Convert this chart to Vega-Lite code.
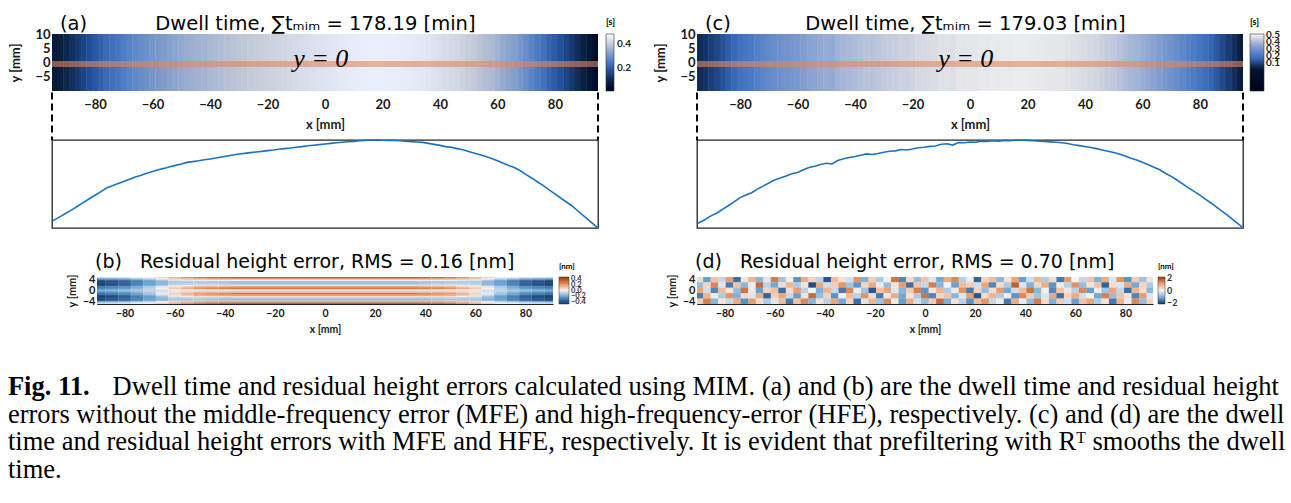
{
"$schema":"https://vega.github.io/schema/vega-lite/v6.json",
"padding":{"left":7,"top":13,"right":0,"bottom":0},
"background":"white",
"config":{"font":"Lato","view":{"stroke":null},"axis":{"grid":false,"ticks":false,"labelColor":"#1a1a1a","titleColor":"#1a1a1a","labelFontWeight":"bold","titleFontWeight":"bold","domainColor":"#222","labelOverlap":false},"legend":{"padding":0},"title":{"color":"black"}},
"datasets":{
"dwellA":[{"x":-95,"t":0.053},{"x":-94,"t":0.062},{"x":-92,"t":0.078},{"x":-90,"t":0.095},{"x":-88,"t":0.112},{"x":-86,"t":0.130},{"x":-84,"t":0.148},{"x":-82,"t":0.166},{"x":-80,"t":0.184},{"x":-78,"t":0.202},{"x":-76,"t":0.220},{"x":-74,"t":0.231},{"x":-72,"t":0.242},{"x":-70,"t":0.253},{"x":-68,"t":0.264},{"x":-66,"t":0.275},{"x":-64,"t":0.284},{"x":-62,"t":0.294},{"x":-60,"t":0.303},{"x":-58,"t":0.311},{"x":-56,"t":0.318},{"x":-54,"t":0.326},{"x":-52,"t":0.333},{"x":-50,"t":0.340},{"x":-48,"t":0.348},{"x":-46,"t":0.352},{"x":-44,"t":0.356},{"x":-42,"t":0.361},{"x":-40,"t":0.365},{"x":-38,"t":0.370},{"x":-36,"t":0.375},{"x":-34,"t":0.380},{"x":-32,"t":0.385},{"x":-30,"t":0.390},{"x":-28,"t":0.393},{"x":-26,"t":0.397},{"x":-24,"t":0.400},{"x":-22,"t":0.403},{"x":-20,"t":0.407},{"x":-18,"t":0.410},{"x":-16,"t":0.414},{"x":-14,"t":0.417},{"x":-12,"t":0.420},{"x":-10,"t":0.424},{"x":-8,"t":0.427},{"x":-6,"t":0.431},{"x":-4,"t":0.434},{"x":-2,"t":0.437},{"x":0,"t":0.440},{"x":2,"t":0.443},{"x":4,"t":0.446},{"x":6,"t":0.449},{"x":8,"t":0.451},{"x":10,"t":0.453},{"x":12,"t":0.456},{"x":14,"t":0.458},{"x":16,"t":0.460},{"x":18,"t":0.460},{"x":20,"t":0.459},{"x":22,"t":0.458},{"x":24,"t":0.458},{"x":26,"t":0.456},{"x":28,"t":0.454},{"x":30,"t":0.452},{"x":32,"t":0.450},{"x":34,"t":0.448},{"x":36,"t":0.443},{"x":38,"t":0.438},{"x":40,"t":0.433},{"x":42,"t":0.427},{"x":44,"t":0.423},{"x":46,"t":0.417},{"x":48,"t":0.411},{"x":50,"t":0.402},{"x":52,"t":0.394},{"x":54,"t":0.386},{"x":56,"t":0.377},{"x":58,"t":0.368},{"x":60,"t":0.356},{"x":62,"t":0.344},{"x":64,"t":0.332},{"x":66,"t":0.321},{"x":68,"t":0.306},{"x":70,"t":0.287},{"x":72,"t":0.269},{"x":74,"t":0.250},{"x":76,"t":0.232},{"x":78,"t":0.211},{"x":80,"t":0.191},{"x":82,"t":0.170},{"x":84,"t":0.150},{"x":86,"t":0.130},{"x":88,"t":0.105},{"x":90,"t":0.081},{"x":92,"t":0.057},{"x":94,"t":0.032},{"x":95,"t":0.020}],
"dwellC":[{"x":-95,"t":0.041},{"x":-94,"t":0.051},{"x":-92,"t":0.067},{"x":-90,"t":0.086},{"x":-88,"t":0.100},{"x":-86,"t":0.121},{"x":-84,"t":0.140},{"x":-82,"t":0.161},{"x":-80,"t":0.182},{"x":-78,"t":0.196},{"x":-76,"t":0.208},{"x":-74,"t":0.227},{"x":-72,"t":0.243},{"x":-70,"t":0.260},{"x":-68,"t":0.276},{"x":-66,"t":0.286},{"x":-64,"t":0.297},{"x":-62,"t":0.309},{"x":-60,"t":0.316},{"x":-58,"t":0.330},{"x":-56,"t":0.342},{"x":-54,"t":0.349},{"x":-52,"t":0.358},{"x":-50,"t":0.365},{"x":-48,"t":0.361},{"x":-46,"t":0.380},{"x":-44,"t":0.389},{"x":-42,"t":0.396},{"x":-40,"t":0.401},{"x":-38,"t":0.408},{"x":-36,"t":0.415},{"x":-34,"t":0.412},{"x":-32,"t":0.417},{"x":-30,"t":0.424},{"x":-28,"t":0.429},{"x":-26,"t":0.431},{"x":-24,"t":0.438},{"x":-22,"t":0.436},{"x":-20,"t":0.441},{"x":-18,"t":0.448},{"x":-16,"t":0.450},{"x":-14,"t":0.455},{"x":-12,"t":0.457},{"x":-10,"t":0.466},{"x":-8,"t":0.469},{"x":-6,"t":0.462},{"x":-4,"t":0.476},{"x":-2,"t":0.474},{"x":0,"t":0.478},{"x":2,"t":0.477},{"x":4,"t":0.483},{"x":6,"t":0.481},{"x":8,"t":0.485},{"x":10,"t":0.483},{"x":12,"t":0.487},{"x":14,"t":0.485},{"x":16,"t":0.489},{"x":18,"t":0.488},{"x":20,"t":0.487},{"x":22,"t":0.485},{"x":24,"t":0.483},{"x":26,"t":0.481},{"x":28,"t":0.479},{"x":30,"t":0.477},{"x":32,"t":0.474},{"x":34,"t":0.470},{"x":36,"t":0.464},{"x":38,"t":0.459},{"x":40,"t":0.454},{"x":42,"t":0.449},{"x":44,"t":0.443},{"x":46,"t":0.436},{"x":48,"t":0.429},{"x":50,"t":0.422},{"x":52,"t":0.414},{"x":54,"t":0.404},{"x":56,"t":0.392},{"x":58,"t":0.382},{"x":60,"t":0.370},{"x":62,"t":0.357},{"x":64,"t":0.344},{"x":66,"t":0.330},{"x":68,"t":0.312},{"x":70,"t":0.295},{"x":72,"t":0.276},{"x":74,"t":0.255},{"x":76,"t":0.234},{"x":78,"t":0.215},{"x":80,"t":0.195},{"x":82,"t":0.173},{"x":84,"t":0.152},{"x":86,"t":0.129},{"x":88,"t":0.106},{"x":90,"t":0.083},{"x":92,"t":0.058},{"x":94,"t":0.034},{"x":95,"t":0.020}],
"resB":[
{"x":-92.5,"x2":-87.5,"y":4.75,"v":-0.06},{"x":-92.5,"x2":-87.5,"y":4.25,"v":-0.22},{"x":-92.5,"x2":-87.5,"y":3.75,"v":-0.37},{"x":-92.5,"x2":-87.5,"y":3.25,"v":-0.44},{"x":-92.5,"x2":-87.5,"y":2.75,"v":-0.47},{"x":-92.5,"x2":-87.5,"y":2.25,"v":-0.44},{"x":-92.5,"x2":-87.5,"y":1.75,"v":-0.40},{"x":-92.5,"x2":-87.5,"y":1.25,"v":-0.34},{"x":-92.5,"x2":-87.5,"y":0.75,"v":-0.27},{"x":-92.5,"x2":-87.5,"y":0.25,"v":-0.22},{"x":-92.5,"x2":-87.5,"y":-0.25,"v":-0.20},{"x":-92.5,"x2":-87.5,"y":-0.75,"v":-0.27},{"x":-92.5,"x2":-87.5,"y":-1.25,"v":-0.34},{"x":-92.5,"x2":-87.5,"y":-1.75,"v":-0.40},{"x":-92.5,"x2":-87.5,"y":-2.25,"v":-0.44},{"x":-92.5,"x2":-87.5,"y":-2.75,"v":-0.47},{"x":-92.5,"x2":-87.5,"y":-3.25,"v":-0.44},{"x":-92.5,"x2":-87.5,"y":-3.75,"v":-0.37},{"x":-92.5,"x2":-87.5,"y":-4.25,"v":-0.22},{"x":-92.5,"x2":-87.5,"y":-4.75,"v":-0.06},
{"x":-87.5,"x2":-82.5,"y":4.75,"v":-0.05},{"x":-87.5,"x2":-82.5,"y":4.25,"v":-0.20},{"x":-87.5,"x2":-82.5,"y":3.75,"v":-0.34},{"x":-87.5,"x2":-82.5,"y":3.25,"v":-0.41},{"x":-87.5,"x2":-82.5,"y":2.75,"v":-0.44},{"x":-87.5,"x2":-82.5,"y":2.25,"v":-0.41},{"x":-87.5,"x2":-82.5,"y":1.75,"v":-0.37},{"x":-87.5,"x2":-82.5,"y":1.25,"v":-0.31},{"x":-87.5,"x2":-82.5,"y":0.75,"v":-0.25},{"x":-87.5,"x2":-82.5,"y":0.25,"v":-0.20},{"x":-87.5,"x2":-82.5,"y":-0.25,"v":-0.18},{"x":-87.5,"x2":-82.5,"y":-0.75,"v":-0.25},{"x":-87.5,"x2":-82.5,"y":-1.25,"v":-0.31},{"x":-87.5,"x2":-82.5,"y":-1.75,"v":-0.37},{"x":-87.5,"x2":-82.5,"y":-2.25,"v":-0.41},{"x":-87.5,"x2":-82.5,"y":-2.75,"v":-0.44},{"x":-87.5,"x2":-82.5,"y":-3.25,"v":-0.41},{"x":-87.5,"x2":-82.5,"y":-3.75,"v":-0.34},{"x":-87.5,"x2":-82.5,"y":-4.25,"v":-0.20},{"x":-87.5,"x2":-82.5,"y":-4.75,"v":-0.05},
{"x":-82.5,"x2":-77.5,"y":4.75,"v":-0.04},{"x":-82.5,"x2":-77.5,"y":4.25,"v":-0.18},{"x":-82.5,"x2":-77.5,"y":3.75,"v":-0.31},{"x":-82.5,"x2":-77.5,"y":3.25,"v":-0.37},{"x":-82.5,"x2":-77.5,"y":2.75,"v":-0.40},{"x":-82.5,"x2":-77.5,"y":2.25,"v":-0.37},{"x":-82.5,"x2":-77.5,"y":1.75,"v":-0.33},{"x":-82.5,"x2":-77.5,"y":1.25,"v":-0.28},{"x":-82.5,"x2":-77.5,"y":0.75,"v":-0.22},{"x":-82.5,"x2":-77.5,"y":0.25,"v":-0.17},{"x":-82.5,"x2":-77.5,"y":-0.25,"v":-0.15},{"x":-82.5,"x2":-77.5,"y":-0.75,"v":-0.22},{"x":-82.5,"x2":-77.5,"y":-1.25,"v":-0.28},{"x":-82.5,"x2":-77.5,"y":-1.75,"v":-0.33},{"x":-82.5,"x2":-77.5,"y":-2.25,"v":-0.37},{"x":-82.5,"x2":-77.5,"y":-2.75,"v":-0.40},{"x":-82.5,"x2":-77.5,"y":-3.25,"v":-0.37},{"x":-82.5,"x2":-77.5,"y":-3.75,"v":-0.31},{"x":-82.5,"x2":-77.5,"y":-4.25,"v":-0.18},{"x":-82.5,"x2":-77.5,"y":-4.75,"v":-0.04},
{"x":-77.5,"x2":-72.5,"y":4.75,"v":-0.01},{"x":-77.5,"x2":-72.5,"y":4.25,"v":-0.13},{"x":-77.5,"x2":-72.5,"y":3.75,"v":-0.25},{"x":-77.5,"x2":-72.5,"y":3.25,"v":-0.30},{"x":-77.5,"x2":-72.5,"y":2.75,"v":-0.32},{"x":-77.5,"x2":-72.5,"y":2.25,"v":-0.29},{"x":-77.5,"x2":-72.5,"y":1.75,"v":-0.25},{"x":-77.5,"x2":-72.5,"y":1.25,"v":-0.20},{"x":-77.5,"x2":-72.5,"y":0.75,"v":-0.16},{"x":-77.5,"x2":-72.5,"y":0.25,"v":-0.13},{"x":-77.5,"x2":-72.5,"y":-0.25,"v":-0.12},{"x":-77.5,"x2":-72.5,"y":-0.75,"v":-0.16},{"x":-77.5,"x2":-72.5,"y":-1.25,"v":-0.21},{"x":-77.5,"x2":-72.5,"y":-1.75,"v":-0.25},{"x":-77.5,"x2":-72.5,"y":-2.25,"v":-0.29},{"x":-77.5,"x2":-72.5,"y":-2.75,"v":-0.32},{"x":-77.5,"x2":-72.5,"y":-3.25,"v":-0.30},{"x":-77.5,"x2":-72.5,"y":-3.75,"v":-0.25},{"x":-77.5,"x2":-72.5,"y":-4.25,"v":-0.13},{"x":-77.5,"x2":-72.5,"y":-4.75,"v":-0.01},
{"x":-72.5,"x2":-67.5,"y":4.75,"v":0.02},{"x":-72.5,"x2":-67.5,"y":4.25,"v":-0.08},{"x":-72.5,"x2":-67.5,"y":3.75,"v":-0.18},{"x":-72.5,"x2":-67.5,"y":3.25,"v":-0.22},{"x":-72.5,"x2":-67.5,"y":2.75,"v":-0.24},{"x":-72.5,"x2":-67.5,"y":2.25,"v":-0.21},{"x":-72.5,"x2":-67.5,"y":1.75,"v":-0.17},{"x":-72.5,"x2":-67.5,"y":1.25,"v":-0.12},{"x":-72.5,"x2":-67.5,"y":0.75,"v":-0.09},{"x":-72.5,"x2":-67.5,"y":0.25,"v":-0.08},{"x":-72.5,"x2":-67.5,"y":-0.25,"v":-0.09},{"x":-72.5,"x2":-67.5,"y":-0.75,"v":-0.10},{"x":-72.5,"x2":-67.5,"y":-1.25,"v":-0.13},{"x":-72.5,"x2":-67.5,"y":-1.75,"v":-0.17},{"x":-72.5,"x2":-67.5,"y":-2.25,"v":-0.21},{"x":-72.5,"x2":-67.5,"y":-2.75,"v":-0.24},{"x":-72.5,"x2":-67.5,"y":-3.25,"v":-0.22},{"x":-72.5,"x2":-67.5,"y":-3.75,"v":-0.18},{"x":-72.5,"x2":-67.5,"y":-4.25,"v":-0.08},{"x":-72.5,"x2":-67.5,"y":-4.75,"v":0.02},
{"x":-67.5,"x2":-62.5,"y":4.75,"v":0.08},{"x":-67.5,"x2":-62.5,"y":4.25,"v":0.00},{"x":-67.5,"x2":-62.5,"y":3.75,"v":-0.11},{"x":-67.5,"x2":-62.5,"y":3.25,"v":-0.16},{"x":-67.5,"x2":-62.5,"y":2.75,"v":-0.18},{"x":-67.5,"x2":-62.5,"y":2.25,"v":-0.15},{"x":-67.5,"x2":-62.5,"y":1.75,"v":-0.10},{"x":-67.5,"x2":-62.5,"y":1.25,"v":-0.03},{"x":-67.5,"x2":-62.5,"y":0.75,"v":0.00},{"x":-67.5,"x2":-62.5,"y":0.25,"v":-0.03},{"x":-67.5,"x2":-62.5,"y":-0.25,"v":-0.06},{"x":-67.5,"x2":-62.5,"y":-0.75,"v":-0.03},{"x":-67.5,"x2":-62.5,"y":-1.25,"v":-0.02},{"x":-67.5,"x2":-62.5,"y":-1.75,"v":-0.06},{"x":-67.5,"x2":-62.5,"y":-2.25,"v":-0.12},{"x":-67.5,"x2":-62.5,"y":-2.75,"v":-0.17},{"x":-67.5,"x2":-62.5,"y":-3.25,"v":-0.17},{"x":-67.5,"x2":-62.5,"y":-3.75,"v":-0.14},{"x":-67.5,"x2":-62.5,"y":-4.25,"v":0.00},{"x":-67.5,"x2":-62.5,"y":-4.75,"v":0.08},
{"x":-62.5,"x2":-57.5,"y":4.75,"v":0.15},{"x":-62.5,"x2":-57.5,"y":4.25,"v":0.09},{"x":-62.5,"x2":-57.5,"y":3.75,"v":-0.04},{"x":-62.5,"x2":-57.5,"y":3.25,"v":-0.10},{"x":-62.5,"x2":-57.5,"y":2.75,"v":-0.12},{"x":-62.5,"x2":-57.5,"y":2.25,"v":-0.09},{"x":-62.5,"x2":-57.5,"y":1.75,"v":-0.02},{"x":-62.5,"x2":-57.5,"y":1.25,"v":0.06},{"x":-62.5,"x2":-57.5,"y":0.75,"v":0.10},{"x":-62.5,"x2":-57.5,"y":0.25,"v":0.02},{"x":-62.5,"x2":-57.5,"y":-0.25,"v":-0.04},{"x":-62.5,"x2":-57.5,"y":-0.75,"v":0.04},{"x":-62.5,"x2":-57.5,"y":-1.25,"v":0.09},{"x":-62.5,"x2":-57.5,"y":-1.75,"v":0.05},{"x":-62.5,"x2":-57.5,"y":-2.25,"v":-0.03},{"x":-62.5,"x2":-57.5,"y":-2.75,"v":-0.10},{"x":-62.5,"x2":-57.5,"y":-3.25,"v":-0.12},{"x":-62.5,"x2":-57.5,"y":-3.75,"v":-0.09},{"x":-62.5,"x2":-57.5,"y":-4.25,"v":0.07},{"x":-62.5,"x2":-57.5,"y":-4.75,"v":0.15},
{"x":-57.5,"x2":-52.5,"y":4.75,"v":0.22},{"x":-57.5,"x2":-52.5,"y":4.25,"v":0.15},{"x":-57.5,"x2":-52.5,"y":3.75,"v":-0.02},{"x":-57.5,"x2":-52.5,"y":3.25,"v":-0.10},{"x":-57.5,"x2":-52.5,"y":2.75,"v":-0.12},{"x":-57.5,"x2":-52.5,"y":2.25,"v":-0.08},{"x":-57.5,"x2":-52.5,"y":1.75,"v":0.01},{"x":-57.5,"x2":-52.5,"y":1.25,"v":0.12},{"x":-57.5,"x2":-52.5,"y":0.75,"v":0.16},{"x":-57.5,"x2":-52.5,"y":0.25,"v":0.05},{"x":-57.5,"x2":-52.5,"y":-0.25,"v":-0.04},{"x":-57.5,"x2":-52.5,"y":-0.75,"v":0.08},{"x":-57.5,"x2":-52.5,"y":-1.25,"v":0.16},{"x":-57.5,"x2":-52.5,"y":-1.75,"v":0.12},{"x":-57.5,"x2":-52.5,"y":-2.25,"v":0.01},{"x":-57.5,"x2":-52.5,"y":-2.75,"v":-0.09},{"x":-57.5,"x2":-52.5,"y":-3.25,"v":-0.12},{"x":-57.5,"x2":-52.5,"y":-3.75,"v":-0.09},{"x":-57.5,"x2":-52.5,"y":-4.25,"v":0.12},{"x":-57.5,"x2":-52.5,"y":-4.75,"v":0.22},
{"x":-52.5,"x2":-47.5,"y":4.75,"v":0.28},{"x":-52.5,"x2":-47.5,"y":4.25,"v":0.20},{"x":-52.5,"x2":-47.5,"y":3.75,"v":0.00},{"x":-52.5,"x2":-47.5,"y":3.25,"v":-0.10},{"x":-52.5,"x2":-47.5,"y":2.75,"v":-0.12},{"x":-52.5,"x2":-47.5,"y":2.25,"v":-0.06},{"x":-52.5,"x2":-47.5,"y":1.75,"v":0.04},{"x":-52.5,"x2":-47.5,"y":1.25,"v":0.18},{"x":-52.5,"x2":-47.5,"y":0.75,"v":0.22},{"x":-52.5,"x2":-47.5,"y":0.25,"v":0.08},{"x":-52.5,"x2":-47.5,"y":-0.25,"v":-0.04},{"x":-52.5,"x2":-47.5,"y":-0.75,"v":0.12},{"x":-52.5,"x2":-47.5,"y":-1.25,"v":0.22},{"x":-52.5,"x2":-47.5,"y":-1.75,"v":0.18},{"x":-52.5,"x2":-47.5,"y":-2.25,"v":0.04},{"x":-52.5,"x2":-47.5,"y":-2.75,"v":-0.08},{"x":-52.5,"x2":-47.5,"y":-3.25,"v":-0.12},{"x":-52.5,"x2":-47.5,"y":-3.75,"v":-0.08},{"x":-52.5,"x2":-47.5,"y":-4.25,"v":0.16},{"x":-52.5,"x2":-47.5,"y":-4.75,"v":0.28},
{"x":-47.5,"x2":-42.5,"y":4.75,"v":0.31},{"x":-47.5,"x2":-42.5,"y":4.25,"v":0.22},{"x":-47.5,"x2":-42.5,"y":3.75,"v":0.00},{"x":-47.5,"x2":-42.5,"y":3.25,"v":-0.11},{"x":-47.5,"x2":-42.5,"y":2.75,"v":-0.13},{"x":-47.5,"x2":-42.5,"y":2.25,"v":-0.07},{"x":-47.5,"x2":-42.5,"y":1.75,"v":0.05},{"x":-47.5,"x2":-42.5,"y":1.25,"v":0.20},{"x":-47.5,"x2":-42.5,"y":0.75,"v":0.25},{"x":-47.5,"x2":-42.5,"y":0.25,"v":0.09},{"x":-47.5,"x2":-42.5,"y":-0.25,"v":-0.05},{"x":-47.5,"x2":-42.5,"y":-0.75,"v":0.13},{"x":-47.5,"x2":-42.5,"y":-1.25,"v":0.25},{"x":-47.5,"x2":-42.5,"y":-1.75,"v":0.20},{"x":-47.5,"x2":-42.5,"y":-2.25,"v":0.05},{"x":-47.5,"x2":-42.5,"y":-2.75,"v":-0.09},{"x":-47.5,"x2":-42.5,"y":-3.25,"v":-0.13},{"x":-47.5,"x2":-42.5,"y":-3.75,"v":-0.09},{"x":-47.5,"x2":-42.5,"y":-4.25,"v":0.18},{"x":-47.5,"x2":-42.5,"y":-4.75,"v":0.31},
{"x":-42.5,"x2":-37.5,"y":4.75,"v":0.33},{"x":-42.5,"x2":-37.5,"y":4.25,"v":0.24},{"x":-42.5,"x2":-37.5,"y":3.75,"v":0.00},{"x":-42.5,"x2":-37.5,"y":3.25,"v":-0.11},{"x":-42.5,"x2":-37.5,"y":2.75,"v":-0.14},{"x":-42.5,"x2":-37.5,"y":2.25,"v":-0.08},{"x":-42.5,"x2":-37.5,"y":1.75,"v":0.05},{"x":-42.5,"x2":-37.5,"y":1.25,"v":0.21},{"x":-42.5,"x2":-37.5,"y":0.75,"v":0.27},{"x":-42.5,"x2":-37.5,"y":0.25,"v":0.10},{"x":-42.5,"x2":-37.5,"y":-0.25,"v":-0.05},{"x":-42.5,"x2":-37.5,"y":-0.75,"v":0.14},{"x":-42.5,"x2":-37.5,"y":-1.25,"v":0.27},{"x":-42.5,"x2":-37.5,"y":-1.75,"v":0.21},{"x":-42.5,"x2":-37.5,"y":-2.25,"v":0.05},{"x":-42.5,"x2":-37.5,"y":-2.75,"v":-0.10},{"x":-42.5,"x2":-37.5,"y":-3.25,"v":-0.14},{"x":-42.5,"x2":-37.5,"y":-3.75,"v":-0.10},{"x":-42.5,"x2":-37.5,"y":-4.25,"v":0.19},{"x":-42.5,"x2":-37.5,"y":-4.75,"v":0.33},
{"x":-37.5,"x2":37.5,"y":4.75,"v":0.35},{"x":-37.5,"x2":37.5,"y":4.25,"v":0.25},{"x":-37.5,"x2":37.5,"y":3.75,"v":0.00},{"x":-37.5,"x2":37.5,"y":3.25,"v":-0.12},{"x":-37.5,"x2":37.5,"y":2.75,"v":-0.15},{"x":-37.5,"x2":37.5,"y":2.25,"v":-0.08},{"x":-37.5,"x2":37.5,"y":1.75,"v":0.05},{"x":-37.5,"x2":37.5,"y":1.25,"v":0.22},{"x":-37.5,"x2":37.5,"y":0.75,"v":0.28},{"x":-37.5,"x2":37.5,"y":0.25,"v":0.10},{"x":-37.5,"x2":37.5,"y":-0.25,"v":-0.05},{"x":-37.5,"x2":37.5,"y":-0.75,"v":0.15},{"x":-37.5,"x2":37.5,"y":-1.25,"v":0.28},{"x":-37.5,"x2":37.5,"y":-1.75,"v":0.22},{"x":-37.5,"x2":37.5,"y":-2.25,"v":0.05},{"x":-37.5,"x2":37.5,"y":-2.75,"v":-0.10},{"x":-37.5,"x2":37.5,"y":-3.25,"v":-0.15},{"x":-37.5,"x2":37.5,"y":-3.75,"v":-0.10},{"x":-37.5,"x2":37.5,"y":-4.25,"v":0.20},{"x":-37.5,"x2":37.5,"y":-4.75,"v":0.35},
{"x":37.5,"x2":42.5,"y":4.75,"v":0.33},{"x":37.5,"x2":42.5,"y":4.25,"v":0.24},{"x":37.5,"x2":42.5,"y":3.75,"v":0.00},{"x":37.5,"x2":42.5,"y":3.25,"v":-0.11},{"x":37.5,"x2":42.5,"y":2.75,"v":-0.14},{"x":37.5,"x2":42.5,"y":2.25,"v":-0.08},{"x":37.5,"x2":42.5,"y":1.75,"v":0.05},{"x":37.5,"x2":42.5,"y":1.25,"v":0.21},{"x":37.5,"x2":42.5,"y":0.75,"v":0.27},{"x":37.5,"x2":42.5,"y":0.25,"v":0.10},{"x":37.5,"x2":42.5,"y":-0.25,"v":-0.05},{"x":37.5,"x2":42.5,"y":-0.75,"v":0.14},{"x":37.5,"x2":42.5,"y":-1.25,"v":0.27},{"x":37.5,"x2":42.5,"y":-1.75,"v":0.21},{"x":37.5,"x2":42.5,"y":-2.25,"v":0.05},{"x":37.5,"x2":42.5,"y":-2.75,"v":-0.10},{"x":37.5,"x2":42.5,"y":-3.25,"v":-0.14},{"x":37.5,"x2":42.5,"y":-3.75,"v":-0.10},{"x":37.5,"x2":42.5,"y":-4.25,"v":0.19},{"x":37.5,"x2":42.5,"y":-4.75,"v":0.33},
{"x":42.5,"x2":47.5,"y":4.75,"v":0.31},{"x":42.5,"x2":47.5,"y":4.25,"v":0.22},{"x":42.5,"x2":47.5,"y":3.75,"v":0.00},{"x":42.5,"x2":47.5,"y":3.25,"v":-0.11},{"x":42.5,"x2":47.5,"y":2.75,"v":-0.13},{"x":42.5,"x2":47.5,"y":2.25,"v":-0.07},{"x":42.5,"x2":47.5,"y":1.75,"v":0.05},{"x":42.5,"x2":47.5,"y":1.25,"v":0.20},{"x":42.5,"x2":47.5,"y":0.75,"v":0.25},{"x":42.5,"x2":47.5,"y":0.25,"v":0.09},{"x":42.5,"x2":47.5,"y":-0.25,"v":-0.05},{"x":42.5,"x2":47.5,"y":-0.75,"v":0.13},{"x":42.5,"x2":47.5,"y":-1.25,"v":0.25},{"x":42.5,"x2":47.5,"y":-1.75,"v":0.20},{"x":42.5,"x2":47.5,"y":-2.25,"v":0.05},{"x":42.5,"x2":47.5,"y":-2.75,"v":-0.09},{"x":42.5,"x2":47.5,"y":-3.25,"v":-0.13},{"x":42.5,"x2":47.5,"y":-3.75,"v":-0.09},{"x":42.5,"x2":47.5,"y":-4.25,"v":0.18},{"x":42.5,"x2":47.5,"y":-4.75,"v":0.31},
{"x":47.5,"x2":52.5,"y":4.75,"v":0.28},{"x":47.5,"x2":52.5,"y":4.25,"v":0.20},{"x":47.5,"x2":52.5,"y":3.75,"v":0.00},{"x":47.5,"x2":52.5,"y":3.25,"v":-0.10},{"x":47.5,"x2":52.5,"y":2.75,"v":-0.12},{"x":47.5,"x2":52.5,"y":2.25,"v":-0.06},{"x":47.5,"x2":52.5,"y":1.75,"v":0.04},{"x":47.5,"x2":52.5,"y":1.25,"v":0.18},{"x":47.5,"x2":52.5,"y":0.75,"v":0.22},{"x":47.5,"x2":52.5,"y":0.25,"v":0.08},{"x":47.5,"x2":52.5,"y":-0.25,"v":-0.04},{"x":47.5,"x2":52.5,"y":-0.75,"v":0.12},{"x":47.5,"x2":52.5,"y":-1.25,"v":0.22},{"x":47.5,"x2":52.5,"y":-1.75,"v":0.18},{"x":47.5,"x2":52.5,"y":-2.25,"v":0.04},{"x":47.5,"x2":52.5,"y":-2.75,"v":-0.08},{"x":47.5,"x2":52.5,"y":-3.25,"v":-0.12},{"x":47.5,"x2":52.5,"y":-3.75,"v":-0.08},{"x":47.5,"x2":52.5,"y":-4.25,"v":0.16},{"x":47.5,"x2":52.5,"y":-4.75,"v":0.28},
{"x":52.5,"x2":57.5,"y":4.75,"v":0.22},{"x":52.5,"x2":57.5,"y":4.25,"v":0.15},{"x":52.5,"x2":57.5,"y":3.75,"v":-0.02},{"x":52.5,"x2":57.5,"y":3.25,"v":-0.10},{"x":52.5,"x2":57.5,"y":2.75,"v":-0.12},{"x":52.5,"x2":57.5,"y":2.25,"v":-0.08},{"x":52.5,"x2":57.5,"y":1.75,"v":0.01},{"x":52.5,"x2":57.5,"y":1.25,"v":0.12},{"x":52.5,"x2":57.5,"y":0.75,"v":0.16},{"x":52.5,"x2":57.5,"y":0.25,"v":0.05},{"x":52.5,"x2":57.5,"y":-0.25,"v":-0.04},{"x":52.5,"x2":57.5,"y":-0.75,"v":0.08},{"x":52.5,"x2":57.5,"y":-1.25,"v":0.16},{"x":52.5,"x2":57.5,"y":-1.75,"v":0.12},{"x":52.5,"x2":57.5,"y":-2.25,"v":0.01},{"x":52.5,"x2":57.5,"y":-2.75,"v":-0.09},{"x":52.5,"x2":57.5,"y":-3.25,"v":-0.12},{"x":52.5,"x2":57.5,"y":-3.75,"v":-0.09},{"x":52.5,"x2":57.5,"y":-4.25,"v":0.12},{"x":52.5,"x2":57.5,"y":-4.75,"v":0.22},
{"x":57.5,"x2":62.5,"y":4.75,"v":0.15},{"x":57.5,"x2":62.5,"y":4.25,"v":0.09},{"x":57.5,"x2":62.5,"y":3.75,"v":-0.04},{"x":57.5,"x2":62.5,"y":3.25,"v":-0.10},{"x":57.5,"x2":62.5,"y":2.75,"v":-0.12},{"x":57.5,"x2":62.5,"y":2.25,"v":-0.09},{"x":57.5,"x2":62.5,"y":1.75,"v":-0.02},{"x":57.5,"x2":62.5,"y":1.25,"v":0.06},{"x":57.5,"x2":62.5,"y":0.75,"v":0.10},{"x":57.5,"x2":62.5,"y":0.25,"v":0.02},{"x":57.5,"x2":62.5,"y":-0.25,"v":-0.04},{"x":57.5,"x2":62.5,"y":-0.75,"v":0.04},{"x":57.5,"x2":62.5,"y":-1.25,"v":0.09},{"x":57.5,"x2":62.5,"y":-1.75,"v":0.05},{"x":57.5,"x2":62.5,"y":-2.25,"v":-0.03},{"x":57.5,"x2":62.5,"y":-2.75,"v":-0.10},{"x":57.5,"x2":62.5,"y":-3.25,"v":-0.12},{"x":57.5,"x2":62.5,"y":-3.75,"v":-0.09},{"x":57.5,"x2":62.5,"y":-4.25,"v":0.07},{"x":57.5,"x2":62.5,"y":-4.75,"v":0.15},
{"x":62.5,"x2":67.5,"y":4.75,"v":0.08},{"x":62.5,"x2":67.5,"y":4.25,"v":0.00},{"x":62.5,"x2":67.5,"y":3.75,"v":-0.11},{"x":62.5,"x2":67.5,"y":3.25,"v":-0.16},{"x":62.5,"x2":67.5,"y":2.75,"v":-0.18},{"x":62.5,"x2":67.5,"y":2.25,"v":-0.15},{"x":62.5,"x2":67.5,"y":1.75,"v":-0.10},{"x":62.5,"x2":67.5,"y":1.25,"v":-0.03},{"x":62.5,"x2":67.5,"y":0.75,"v":0.00},{"x":62.5,"x2":67.5,"y":0.25,"v":-0.03},{"x":62.5,"x2":67.5,"y":-0.25,"v":-0.06},{"x":62.5,"x2":67.5,"y":-0.75,"v":-0.03},{"x":62.5,"x2":67.5,"y":-1.25,"v":-0.02},{"x":62.5,"x2":67.5,"y":-1.75,"v":-0.06},{"x":62.5,"x2":67.5,"y":-2.25,"v":-0.12},{"x":62.5,"x2":67.5,"y":-2.75,"v":-0.17},{"x":62.5,"x2":67.5,"y":-3.25,"v":-0.17},{"x":62.5,"x2":67.5,"y":-3.75,"v":-0.14},{"x":62.5,"x2":67.5,"y":-4.25,"v":0.00},{"x":62.5,"x2":67.5,"y":-4.75,"v":0.08},
{"x":67.5,"x2":72.5,"y":4.75,"v":0.02},{"x":67.5,"x2":72.5,"y":4.25,"v":-0.08},{"x":67.5,"x2":72.5,"y":3.75,"v":-0.18},{"x":67.5,"x2":72.5,"y":3.25,"v":-0.22},{"x":67.5,"x2":72.5,"y":2.75,"v":-0.24},{"x":67.5,"x2":72.5,"y":2.25,"v":-0.21},{"x":67.5,"x2":72.5,"y":1.75,"v":-0.17},{"x":67.5,"x2":72.5,"y":1.25,"v":-0.12},{"x":67.5,"x2":72.5,"y":0.75,"v":-0.09},{"x":67.5,"x2":72.5,"y":0.25,"v":-0.08},{"x":67.5,"x2":72.5,"y":-0.25,"v":-0.09},{"x":67.5,"x2":72.5,"y":-0.75,"v":-0.10},{"x":67.5,"x2":72.5,"y":-1.25,"v":-0.13},{"x":67.5,"x2":72.5,"y":-1.75,"v":-0.17},{"x":67.5,"x2":72.5,"y":-2.25,"v":-0.21},{"x":67.5,"x2":72.5,"y":-2.75,"v":-0.24},{"x":67.5,"x2":72.5,"y":-3.25,"v":-0.22},{"x":67.5,"x2":72.5,"y":-3.75,"v":-0.18},{"x":67.5,"x2":72.5,"y":-4.25,"v":-0.08},{"x":67.5,"x2":72.5,"y":-4.75,"v":0.02},
{"x":72.5,"x2":77.5,"y":4.75,"v":-0.01},{"x":72.5,"x2":77.5,"y":4.25,"v":-0.13},{"x":72.5,"x2":77.5,"y":3.75,"v":-0.25},{"x":72.5,"x2":77.5,"y":3.25,"v":-0.30},{"x":72.5,"x2":77.5,"y":2.75,"v":-0.32},{"x":72.5,"x2":77.5,"y":2.25,"v":-0.29},{"x":72.5,"x2":77.5,"y":1.75,"v":-0.25},{"x":72.5,"x2":77.5,"y":1.25,"v":-0.20},{"x":72.5,"x2":77.5,"y":0.75,"v":-0.16},{"x":72.5,"x2":77.5,"y":0.25,"v":-0.13},{"x":72.5,"x2":77.5,"y":-0.25,"v":-0.12},{"x":72.5,"x2":77.5,"y":-0.75,"v":-0.16},{"x":72.5,"x2":77.5,"y":-1.25,"v":-0.21},{"x":72.5,"x2":77.5,"y":-1.75,"v":-0.25},{"x":72.5,"x2":77.5,"y":-2.25,"v":-0.29},{"x":72.5,"x2":77.5,"y":-2.75,"v":-0.32},{"x":72.5,"x2":77.5,"y":-3.25,"v":-0.30},{"x":72.5,"x2":77.5,"y":-3.75,"v":-0.25},{"x":72.5,"x2":77.5,"y":-4.25,"v":-0.13},{"x":72.5,"x2":77.5,"y":-4.75,"v":-0.01},
{"x":77.5,"x2":82.5,"y":4.75,"v":-0.04},{"x":77.5,"x2":82.5,"y":4.25,"v":-0.18},{"x":77.5,"x2":82.5,"y":3.75,"v":-0.31},{"x":77.5,"x2":82.5,"y":3.25,"v":-0.37},{"x":77.5,"x2":82.5,"y":2.75,"v":-0.40},{"x":77.5,"x2":82.5,"y":2.25,"v":-0.37},{"x":77.5,"x2":82.5,"y":1.75,"v":-0.33},{"x":77.5,"x2":82.5,"y":1.25,"v":-0.28},{"x":77.5,"x2":82.5,"y":0.75,"v":-0.22},{"x":77.5,"x2":82.5,"y":0.25,"v":-0.17},{"x":77.5,"x2":82.5,"y":-0.25,"v":-0.15},{"x":77.5,"x2":82.5,"y":-0.75,"v":-0.22},{"x":77.5,"x2":82.5,"y":-1.25,"v":-0.28},{"x":77.5,"x2":82.5,"y":-1.75,"v":-0.33},{"x":77.5,"x2":82.5,"y":-2.25,"v":-0.37},{"x":77.5,"x2":82.5,"y":-2.75,"v":-0.40},{"x":77.5,"x2":82.5,"y":-3.25,"v":-0.37},{"x":77.5,"x2":82.5,"y":-3.75,"v":-0.31},{"x":77.5,"x2":82.5,"y":-4.25,"v":-0.18},{"x":77.5,"x2":82.5,"y":-4.75,"v":-0.04},
{"x":82.5,"x2":87.5,"y":4.75,"v":-0.05},{"x":82.5,"x2":87.5,"y":4.25,"v":-0.20},{"x":82.5,"x2":87.5,"y":3.75,"v":-0.34},{"x":82.5,"x2":87.5,"y":3.25,"v":-0.41},{"x":82.5,"x2":87.5,"y":2.75,"v":-0.44},{"x":82.5,"x2":87.5,"y":2.25,"v":-0.41},{"x":82.5,"x2":87.5,"y":1.75,"v":-0.37},{"x":82.5,"x2":87.5,"y":1.25,"v":-0.31},{"x":82.5,"x2":87.5,"y":0.75,"v":-0.25},{"x":82.5,"x2":87.5,"y":0.25,"v":-0.20},{"x":82.5,"x2":87.5,"y":-0.25,"v":-0.18},{"x":82.5,"x2":87.5,"y":-0.75,"v":-0.25},{"x":82.5,"x2":87.5,"y":-1.25,"v":-0.31},{"x":82.5,"x2":87.5,"y":-1.75,"v":-0.37},{"x":82.5,"x2":87.5,"y":-2.25,"v":-0.41},{"x":82.5,"x2":87.5,"y":-2.75,"v":-0.44},{"x":82.5,"x2":87.5,"y":-3.25,"v":-0.41},{"x":82.5,"x2":87.5,"y":-3.75,"v":-0.34},{"x":82.5,"x2":87.5,"y":-4.25,"v":-0.20},{"x":82.5,"x2":87.5,"y":-4.75,"v":-0.05},
{"x":87.5,"x2":92.5,"y":4.75,"v":-0.06},{"x":87.5,"x2":92.5,"y":4.25,"v":-0.22},{"x":87.5,"x2":92.5,"y":3.75,"v":-0.37},{"x":87.5,"x2":92.5,"y":3.25,"v":-0.44},{"x":87.5,"x2":92.5,"y":2.75,"v":-0.47},{"x":87.5,"x2":92.5,"y":2.25,"v":-0.44},{"x":87.5,"x2":92.5,"y":1.75,"v":-0.40},{"x":87.5,"x2":92.5,"y":1.25,"v":-0.34},{"x":87.5,"x2":92.5,"y":0.75,"v":-0.27},{"x":87.5,"x2":92.5,"y":0.25,"v":-0.22},{"x":87.5,"x2":92.5,"y":-0.25,"v":-0.20},{"x":87.5,"x2":92.5,"y":-0.75,"v":-0.27},{"x":87.5,"x2":92.5,"y":-1.25,"v":-0.34},{"x":87.5,"x2":92.5,"y":-1.75,"v":-0.40},{"x":87.5,"x2":92.5,"y":-2.25,"v":-0.44},{"x":87.5,"x2":92.5,"y":-2.75,"v":-0.47},{"x":87.5,"x2":92.5,"y":-3.25,"v":-0.44},{"x":87.5,"x2":92.5,"y":-3.75,"v":-0.37},{"x":87.5,"x2":92.5,"y":-4.25,"v":-0.22},{"x":87.5,"x2":92.5,"y":-4.75,"v":-0.06}
],
"resD":[
{"x":-90,"y":4,"v":0.3},{"x":-87,"y":4,"v":-1.2},{"x":-84,"y":4,"v":0.6},{"x":-81,"y":4,"v":-0.4},{"x":-78,"y":4,"v":1.1},{"x":-75,"y":4,"v":-1.6},{"x":-72,"y":4,"v":0.2},{"x":-69,"y":4,"v":0.8},{"x":-66,"y":4,"v":-0.9},{"x":-63,"y":4,"v":-0.2},
{"x":-60,"y":4,"v":1.4},{"x":-57,"y":4,"v":-0.7},{"x":-54,"y":4,"v":0.1},{"x":-51,"y":4,"v":-1.3},{"x":-48,"y":4,"v":0.9},{"x":-45,"y":4,"v":0.4},{"x":-42,"y":4,"v":-0.5},{"x":-39,"y":4,"v":-1.8},{"x":-36,"y":4,"v":0.7},{"x":-33,"y":4,"v":0.2},
{"x":-30,"y":4,"v":-0.3},{"x":-27,"y":4,"v":1.2},{"x":-24,"y":4,"v":-1.0},{"x":-21,"y":4,"v":0.5},{"x":-18,"y":4,"v":-0.6},{"x":-15,"y":4,"v":0.0},{"x":-12,"y":4,"v":1.5},{"x":-9,"y":4,"v":-1.4},{"x":-6,"y":4,"v":0.3},{"x":-3,"y":4,"v":-0.8},
{"x":0,"y":4,"v":0.6},{"x":3,"y":4,"v":-0.2},{"x":6,"y":4,"v":-1.1},{"x":9,"y":4,"v":0.9},{"x":12,"y":4,"v":1.3},{"x":15,"y":4,"v":-0.5},{"x":18,"y":4,"v":0.1},{"x":21,"y":4,"v":-1.7},{"x":24,"y":4,"v":0.4},{"x":27,"y":4,"v":0.7},
{"x":30,"y":4,"v":-0.9},{"x":33,"y":4,"v":0.2},{"x":36,"y":4,"v":1.0},{"x":39,"y":4,"v":-1.2},{"x":42,"y":4,"v":-0.3},{"x":45,"y":4,"v":0.8},{"x":48,"y":4,"v":-0.6},{"x":51,"y":4,"v":0.3},{"x":54,"y":4,"v":-1.5},{"x":57,"y":4,"v":1.1},
{"x":60,"y":4,"v":0.0},{"x":63,"y":4,"v":-0.4},{"x":66,"y":4,"v":0.6},{"x":69,"y":4,"v":-1.0},{"x":72,"y":4,"v":0.9},{"x":75,"y":4,"v":-0.2},{"x":78,"y":4,"v":1.2},{"x":81,"y":4,"v":-1.3},{"x":84,"y":4,"v":0.5},{"x":87,"y":4,"v":-0.7},{"x":90,"y":4,"v":0.2},
{"x":-90,"y":2,"v":-0.8},{"x":-87,"y":2,"v":0.4},{"x":-84,"y":2,"v":1.3},{"x":-81,"y":2,"v":-0.2},{"x":-78,"y":2,"v":-1.5},{"x":-75,"y":2,"v":0.6},{"x":-72,"y":2,"v":-0.9},{"x":-69,"y":2,"v":0.1},{"x":-66,"y":2,"v":1.6},{"x":-63,"y":2,"v":-0.5},
{"x":-60,"y":2,"v":-1.1},{"x":-57,"y":2,"v":0.3},{"x":-54,"y":2,"v":0.8},{"x":-51,"y":2,"v":-0.6},{"x":-48,"y":2,"v":0.2},{"x":-45,"y":2,"v":-1.9},{"x":-42,"y":2,"v":1.0},{"x":-39,"y":2,"v":-0.3},{"x":-36,"y":2,"v":0.5},{"x":-33,"y":2,"v":1.2},
{"x":-30,"y":2,"v":-0.7},{"x":-27,"y":2,"v":-1.3},{"x":-24,"y":2,"v":0.4},{"x":-21,"y":2,"v":0.9},{"x":-18,"y":2,"v":-0.1},{"x":-15,"y":2,"v":-0.8},{"x":-12,"y":2,"v":0.2},{"x":-9,"y":2,"v":1.1},{"x":-6,"y":2,"v":-1.6},{"x":-3,"y":2,"v":0.6},
{"x":0,"y":2,"v":-0.4},{"x":3,"y":2,"v":1.4},{"x":6,"y":2,"v":-0.9},{"x":9,"y":2,"v":0.0},{"x":12,"y":2,"v":-1.2},{"x":15,"y":2,"v":0.7},{"x":18,"y":2,"v":0.5},{"x":21,"y":2,"v":-0.3},{"x":24,"y":2,"v":1.0},{"x":27,"y":2,"v":-1.4},
{"x":30,"y":2,"v":0.3},{"x":33,"y":2,"v":-0.6},{"x":36,"y":2,"v":1.7},{"x":39,"y":2,"v":-0.2},{"x":42,"y":2,"v":-1.0},{"x":45,"y":2,"v":0.4},{"x":48,"y":2,"v":0.9},{"x":51,"y":2,"v":-1.3},{"x":54,"y":2,"v":0.1},{"x":57,"y":2,"v":-0.5},
{"x":60,"y":2,"v":1.2},{"x":63,"y":2,"v":-0.8},{"x":66,"y":2,"v":0.2},{"x":69,"y":2,"v":0.6},{"x":72,"y":2,"v":-1.7},{"x":75,"y":2,"v":0.3},{"x":78,"y":2,"v":-0.2},{"x":81,"y":2,"v":0.9},{"x":84,"y":2,"v":-1.1},{"x":87,"y":2,"v":0.4},{"x":90,"y":2,"v":-0.6},
{"x":-90,"y":0,"v":1.0},{"x":-87,"y":0,"v":-0.3},{"x":-84,"y":0,"v":-1.4},{"x":-81,"y":0,"v":0.7},{"x":-78,"y":0,"v":0.2},{"x":-75,"y":0,"v":-0.8},{"x":-72,"y":0,"v":1.5},{"x":-69,"y":0,"v":-0.1},{"x":-66,"y":0,"v":-1.2},{"x":-63,"y":0,"v":0.4},
{"x":-60,"y":0,"v":0.6},{"x":-57,"y":0,"v":-1.6},{"x":-54,"y":0,"v":0.3},{"x":-51,"y":0,"v":1.1},{"x":-48,"y":0,"v":-0.5},{"x":-45,"y":0,"v":0.0},{"x":-42,"y":0,"v":-1.0},{"x":-39,"y":0,"v":0.8},{"x":-36,"y":0,"v":-0.4},{"x":-33,"y":0,"v":-1.5},
{"x":-30,"y":0,"v":1.3},{"x":-27,"y":0,"v":0.1},{"x":-24,"y":0,"v":-0.7},{"x":-21,"y":0,"v":-1.8},{"x":-18,"y":0,"v":0.6},{"x":-15,"y":0,"v":1.0},{"x":-12,"y":0,"v":-0.2},{"x":-9,"y":0,"v":-0.9},{"x":-6,"y":0,"v":0.5},{"x":-3,"y":0,"v":1.4},
{"x":0,"y":0,"v":-1.3},{"x":3,"y":0,"v":0.2},{"x":6,"y":0,"v":0.8},{"x":9,"y":0,"v":-0.6},{"x":12,"y":0,"v":-0.1},{"x":15,"y":0,"v":1.2},{"x":18,"y":0,"v":-1.5},{"x":21,"y":0,"v":0.4},{"x":24,"y":0,"v":-0.8},{"x":27,"y":0,"v":0.3},
{"x":30,"y":0,"v":1.1},{"x":33,"y":0,"v":-1.1},{"x":36,"y":0,"v":-0.3},{"x":39,"y":0,"v":0.7},{"x":42,"y":0,"v":1.5},{"x":45,"y":0,"v":-0.9},{"x":48,"y":0,"v":0.0},{"x":51,"y":0,"v":-1.4},{"x":54,"y":0,"v":0.6},{"x":57,"y":0,"v":0.2},
{"x":60,"y":0,"v":-0.5},{"x":63,"y":0,"v":1.3},{"x":66,"y":0,"v":-1.2},{"x":69,"y":0,"v":0.1},{"x":72,"y":0,"v":-0.7},{"x":75,"y":0,"v":1.0},{"x":78,"y":0,"v":-0.4},{"x":81,"y":0,"v":-1.6},{"x":84,"y":0,"v":0.8},{"x":87,"y":0,"v":0.3},{"x":90,"y":0,"v":-0.9},
{"x":-90,"y":-2,"v":-1.5},{"x":-87,"y":-2,"v":0.8},{"x":-84,"y":-2,"v":0.1},{"x":-81,"y":-2,"v":-0.6},{"x":-78,"y":-2,"v":1.2},{"x":-75,"y":-2,"v":-1.0},{"x":-72,"y":-2,"v":0.3},{"x":-69,"y":-2,"v":-0.2},{"x":-66,"y":-2,"v":0.9},{"x":-63,"y":-2,"v":-1.7},
{"x":-60,"y":-2,"v":0.5},{"x":-57,"y":-2,"v":1.0},{"x":-54,"y":-2,"v":-0.4},{"x":-51,"y":-2,"v":-1.2},{"x":-48,"y":-2,"v":0.2},{"x":-45,"y":-2,"v":1.6},{"x":-42,"y":-2,"v":-0.8},{"x":-39,"y":-2,"v":0.4},{"x":-36,"y":-2,"v":-1.3},{"x":-33,"y":-2,"v":0.0},
{"x":-30,"y":-2,"v":0.7},{"x":-27,"y":-2,"v":-0.5},{"x":-24,"y":-2,"v":1.2},{"x":-21,"y":-2,"v":0.3},{"x":-18,"y":-2,"v":-1.5},{"x":-15,"y":-2,"v":-0.1},{"x":-12,"y":-2,"v":0.9},{"x":-9,"y":-2,"v":-1.1},{"x":-6,"y":-2,"v":0.2},{"x":-3,"y":-2,"v":-0.6},
{"x":0,"y":-2,"v":1.5},{"x":3,"y":-2,"v":-1.4},{"x":6,"y":-2,"v":0.4},{"x":9,"y":-2,"v":0.6},{"x":12,"y":-2,"v":-0.9},{"x":15,"y":-2,"v":-0.2},{"x":18,"y":-2,"v":1.1},{"x":21,"y":-2,"v":-1.8},{"x":24,"y":-2,"v":0.3},{"x":27,"y":-2,"v":0.8},
{"x":30,"y":-2,"v":-0.6},{"x":33,"y":-2,"v":0.1},{"x":36,"y":-2,"v":-1.3},{"x":39,"y":-2,"v":1.3},{"x":42,"y":-2,"v":0.5},{"x":45,"y":-2,"v":-0.7},{"x":48,"y":-2,"v":-0.2},{"x":51,"y":-2,"v":1.0},{"x":54,"y":-2,"v":-1.6},{"x":57,"y":-2,"v":0.4},
{"x":60,"y":-2,"v":0.9},{"x":63,"y":-2,"v":-0.3},{"x":66,"y":-2,"v":0.0},{"x":69,"y":-2,"v":-1.1},{"x":72,"y":-2,"v":1.4},{"x":75,"y":-2,"v":-0.8},{"x":78,"y":-2,"v":0.6},{"x":81,"y":-2,"v":0.2},{"x":84,"y":-2,"v":-1.4},{"x":87,"y":-2,"v":1.1},{"x":90,"y":-2,"v":-0.2},
{"x":-90,"y":-4,"v":0.5},{"x":-87,"y":-4,"v":1.4},{"x":-84,"y":-4,"v":-0.9},{"x":-81,"y":-4,"v":0.2},{"x":-78,"y":-4,"v":-0.4},{"x":-75,"y":-4,"v":0.9},{"x":-72,"y":-4,"v":-1.3},{"x":-69,"y":-4,"v":1.1},{"x":-66,"y":-4,"v":0.3},{"x":-63,"y":-4,"v":-0.6},
{"x":-60,"y":-4,"v":-0.2},{"x":-57,"y":-4,"v":0.7},{"x":-54,"y":-4,"v":-1.5},{"x":-51,"y":-4,"v":0.6},{"x":-48,"y":-4,"v":1.3},{"x":-45,"y":-4,"v":-0.9},{"x":-42,"y":-4,"v":0.2},{"x":-39,"y":-4,"v":-0.5},{"x":-36,"y":-4,"v":1.0},{"x":-33,"y":-4,"v":-1.1},
{"x":-30,"y":-4,"v":0.4},{"x":-27,"y":-4,"v":-1.6},{"x":-24,"y":-4,"v":-0.2},{"x":-21,"y":-4,"v":0.8},{"x":-18,"y":-4,"v":-0.7},{"x":-15,"y":-4,"v":1.3},{"x":-12,"y":-4,"v":0.1},{"x":-9,"y":-4,"v":-1.2},{"x":-6,"y":-4,"v":0.9},{"x":-3,"y":-4,"v":-0.3},
{"x":0,"y":-4,"v":-0.8},{"x":3,"y":-4,"v":0.5},{"x":6,"y":-4,"v":1.6},{"x":9,"y":-4,"v":-1.0},{"x":12,"y":-4,"v":0.2},{"x":15,"y":-4,"v":-0.5},{"x":18,"y":-4,"v":-1.3},{"x":21,"y":-4,"v":0.7},{"x":24,"y":-4,"v":1.2},{"x":27,"y":-4,"v":-0.4},
{"x":30,"y":-4,"v":0.1},{"x":33,"y":-4,"v":-1.5},{"x":36,"y":-4,"v":0.9},{"x":39,"y":-4,"v":-0.1},{"x":42,"y":-4,"v":-0.8},{"x":45,"y":-4,"v":1.4},{"x":48,"y":-4,"v":0.3},{"x":51,"y":-4,"v":-1.0},{"x":54,"y":-4,"v":0.5},{"x":57,"y":-4,"v":-0.3},
{"x":60,"y":-4,"v":-1.2},{"x":63,"y":-4,"v":0.6},{"x":66,"y":-4,"v":1.0},{"x":69,"y":-4,"v":-0.6},{"x":72,"y":-4,"v":0.2},{"x":75,"y":-4,"v":-1.5},{"x":78,"y":-4,"v":0.8},{"x":81,"y":-4,"v":-0.1},{"x":84,"y":-4,"v":1.3},{"x":87,"y":-4,"v":-0.8},{"x":90,"y":-4,"v":0.4}
]
},
"concat":[
  {"width":546,"height":57,
   "title":{"text":"(a)\u00a0\u00a0\u00a0\u00a0\u00a0\u00a0\u00a0\u00a0\u00a0\u00a0\u00a0Dwell time, ∑tₘᵢₘ = 178.19 [min]","anchor":"start","frame":"group","dx":8,"font":"DejaVu Sans","fontSize":19.5,"fontWeight":"normal","baseline":"alphabetic","offset":-31},
   "layer":[
    {"data":{"name":"dwellA"},"mark":{"type":"rect","width":6.2,"clip":true},
     "encoding":{
      "x":{"field":"x","type":"quantitative","title":"x [mm]","scale":{"domain":[-95,95],"nice":false,"zero":false},"axis":{"values":[-80,-60,-40,-20,0,20,40,60,80],"labelFontSize":13,"titleFontSize":13,"labelPadding":7,"titlePadding":7,"domain":false,"labelOverlap":false}},
      "y":{"datum":-10,"type":"quantitative","title":"y [mm]","scale":{"domain":[-10,10],"nice":false,"zero":false},"axis":{"values":[10,5,0,-5],"labelFontSize":13,"titleFontSize":13,"labelPadding":2,"titlePadding":12,"domain":false,"labelOverlap":false}},
      "y2":{"datum":10},
      "color":{"field":"t","type":"quantitative","scale":{"domain":[0,0.08,0.17,0.25,0.33,0.40,0.487],"range":["#000000","#0b1f3f","#22509a","#4a7cc4","#8aa2cc","#c6ccd8","#ffffff"]},
        "legend":{"orient":"none","legendX":554,"legendY":-16,"direction":"vertical","title":"[s]","titleFontSize":9,"titleFontWeight":"bold","titlePadding":7,"gradientLength":57,"gradientThickness":8,"values":[0.2,0.4],"labelFontSize":10,"labelFontWeight":"bold","labelOffset":3,"labelOverlap":false,"labelColor":"#222","gradientStrokeColor":"#333","gradientStrokeWidth":0.6}}}},
    {"data":{"values":[{"label":"y = 0","y":-0.55}]},
     "layer":[
      {"mark":{"type":"rule","color":"#e2875c","opacity":0.6,"strokeWidth":6},"encoding":{"y":{"field":"y","type":"quantitative","title":"y [mm]","axis":{"values":[10,5,0,-5],"labelFontSize":13,"titleFontSize":13,"labelPadding":2,"titlePadding":12,"domain":false,"labelOverlap":false}}}},
      {"mark":{"type":"text","font":"Liberation Serif","fontStyle":"italic","fontSize":26,"dy":2.5,"baseline":"alphabetic","align":"center","color":"black"},"encoding":{"y":{"field":"y","type":"quantitative","title":"y [mm]","axis":{"values":[10,5,0,-5],"labelFontSize":13,"titleFontSize":13,"labelPadding":2,"titlePadding":12,"domain":false,"labelOverlap":false}},"x":{"datum":-1.5,"type":"quantitative","title":"x [mm]","axis":{"values":[-80,-60,-40,-20,0,20,40,60,80],"labelFontSize":13,"titleFontSize":13,"labelPadding":7,"titlePadding":7,"domain":false,"labelOverlap":false}},"text":{"field":"label"}}}
     ]},
    {"data":{"values":[{"x":-95},{"x":95}]},"mark":{"type":"rule","strokeDash":[7,4],"strokeWidth":2,"color":"black"},"encoding":{"x":{"field":"x","type":"quantitative","title":"x [mm]","axis":{"values":[-80,-60,-40,-20,0,20,40,60,80],"labelFontSize":13,"titleFontSize":13,"labelPadding":7,"titlePadding":7,"domain":false,"labelOverlap":false}},"y":{"datum":-10.5,"type":"quantitative","title":"y [mm]","axis":{"values":[10,5,0,-5],"labelFontSize":13,"titleFontSize":13,"labelPadding":2,"titlePadding":12,"domain":false,"labelOverlap":false}},"y2":{"datum":-27.3}}}
   ]},
  {"width":546,"height":57,
   "title":{"text":"(c)\u00a0\u00a0\u00a0\u00a0\u00a0\u00a0\u00a0\u00a0\u00a0\u00a0\u00a0\u00a0Dwell time, ∑tₘᵢₘ = 179.03 [min]","anchor":"start","frame":"group","dx":8,"font":"DejaVu Sans","fontSize":19.5,"fontWeight":"normal","baseline":"alphabetic","offset":-31},
   "layer":[
    {"data":{"name":"dwellC"},"mark":{"type":"rect","width":6.2,"clip":true},
     "encoding":{
      "x":{"field":"x","type":"quantitative","title":"x [mm]","scale":{"domain":[-95,95],"nice":false,"zero":false},"axis":{"values":[-80,-60,-40,-20,0,20,40,60,80],"labelFontSize":13,"titleFontSize":13,"labelPadding":7,"titlePadding":7,"domain":false,"labelOverlap":false}},
      "y":{"datum":-10,"type":"quantitative","title":"y [mm]","scale":{"domain":[-10,10],"nice":false,"zero":false},"axis":{"values":[10,5,0,-5],"labelFontSize":13,"titleFontSize":13,"labelPadding":2,"titlePadding":12,"domain":false,"labelOverlap":false}},
      "y2":{"datum":10},
      "color":{"field":"t","type":"quantitative","scale":{"domain":[-0.3,0.0,0.08,0.15,0.22,0.32,0.4,0.45,0.51],"range":["#000000","#06122a","#183a72","#3465b2","#4f7fc7","#7b99cf","#acbbd8","#d6d9e1","#f6f6f6"]},
        "legend":{"orient":"none","legendX":553,"legendY":-16,"direction":"vertical","title":"[s]","titleFontSize":9,"titleFontWeight":"bold","titlePadding":7,"gradientLength":57,"gradientThickness":14,"values":[0.1,0.2,0.3,0.4,0.5],"labelFontSize":10,"labelFontWeight":"bold","labelOffset":2,"labelOverlap":false,"labelColor":"#222","gradientStrokeColor":"#333","gradientStrokeWidth":0.6}}}},
    {"data":{"values":[{"label":"y = 0","y":-0.55}]},
     "layer":[
      {"mark":{"type":"rule","color":"#e2875c","opacity":0.6,"strokeWidth":6},"encoding":{"y":{"field":"y","type":"quantitative","title":"y [mm]","axis":{"values":[10,5,0,-5],"labelFontSize":13,"titleFontSize":13,"labelPadding":2,"titlePadding":12,"domain":false,"labelOverlap":false}}}},
      {"mark":{"type":"text","font":"Liberation Serif","fontStyle":"italic","fontSize":26,"dy":2.5,"baseline":"alphabetic","align":"center","color":"black"},"encoding":{"y":{"field":"y","type":"quantitative","title":"y [mm]","axis":{"values":[10,5,0,-5],"labelFontSize":13,"titleFontSize":13,"labelPadding":2,"titlePadding":12,"domain":false,"labelOverlap":false}},"x":{"datum":-1.5,"type":"quantitative","title":"x [mm]","axis":{"values":[-80,-60,-40,-20,0,20,40,60,80],"labelFontSize":13,"titleFontSize":13,"labelPadding":7,"titlePadding":7,"domain":false,"labelOverlap":false}},"text":{"field":"label"}}}
     ]},
    {"data":{"values":[{"x":-95},{"x":95}]},"mark":{"type":"rule","strokeDash":[7,4],"strokeWidth":2,"color":"black"},"encoding":{"x":{"field":"x","type":"quantitative","title":"x [mm]","axis":{"values":[-80,-60,-40,-20,0,20,40,60,80],"labelFontSize":13,"titleFontSize":13,"labelPadding":7,"titlePadding":7,"domain":false,"labelOverlap":false}},"y":{"datum":-10.5,"type":"quantitative","title":"y [mm]","axis":{"values":[10,5,0,-5],"labelFontSize":13,"titleFontSize":13,"labelPadding":2,"titlePadding":12,"domain":false,"labelOverlap":false}},"y2":{"datum":-27.3}}}
   ]},
  {"width":546,"height":88,"view":{"stroke":"#222","strokeWidth":1.3},"data":{"name":"dwellA"},"mark":{"type":"line","color":"#1a73c0","strokeWidth":1.6},
   "encoding":{"x":{"field":"x","type":"quantitative","scale":{"domain":[-95,95],"nice":false,"zero":false},"axis":null},"y":{"field":"t","type":"quantitative","scale":{"domain":[0.02,0.46],"nice":false,"zero":false},"axis":null}}},
  {"width":546,"height":88,"view":{"stroke":"#222","strokeWidth":1.3},"data":{"name":"dwellC"},"mark":{"type":"line","color":"#1a73c0","strokeWidth":1.6},
   "encoding":{"x":{"field":"x","type":"quantitative","scale":{"domain":[-95,95],"nice":false,"zero":false},"axis":null},"y":{"field":"t","type":"quantitative","scale":{"domain":[0.02,0.489],"nice":false,"zero":false},"axis":null}}},
  {"width":456,"height":27,
   "title":{"text":"(b) \u00a0\u00a0Residual height error, RMS = 0.16 [nm]","anchor":"start","frame":"group","dx":-2,"font":"DejaVu Sans","fontSize":19,"fontWeight":"normal","baseline":"alphabetic","offset":-24},
   "data":{"name":"resB"},"mark":{"type":"rect","height":1.6,"clip":true},
   "encoding":{
    "x":{"field":"x","type":"quantitative","scale":{"domain":[-91,91],"nice":false,"zero":false},"axis":{"values":[-80,-60,-40,-20,0,20,40,60,80],"title":"x [mm]","labelFontSize":10.5,"titleFontSize":10.5,"labelPadding":4,"titlePadding":6,"domain":true}},
    "x2":{"field":"x2"},
    "y":{"field":"y","type":"quantitative","scale":{"domain":[-5,5],"nice":false,"zero":false},"axis":{"values":[4,0,-4],"title":"y [mm]","labelFontSize":11,"titleFontSize":11,"labelPadding":2,"titlePadding":5,"domain":true}},
    "color":{"field":"v","type":"quantitative","scale":{"domain":[-0.47,-0.22,0,0.22,0.47],"range":["#08376b","#5f9fd0","#f3f3f3","#e4935f","#9e360a"]},
      "legend":{"orient":"none","legendX":462,"legendY":-14,"direction":"vertical","title":"[nm]","titleFontSize":8,"titleFontWeight":"bold","titlePadding":6,"gradientLength":27,"gradientThickness":10,"values":[0.4,0.2,0,-0.2,-0.4],"labelFontSize":7.5,"labelFontWeight":"bold","labelOffset":2,"labelOverlap":false,"labelColor":"#333","gradientStrokeColor":"#333","gradientStrokeWidth":0.5}}}},
  {"width":456,"height":27,
   "title":{"text":"(d) \u00a0\u00a0Residual height error, RMS = 0.70 [nm]","anchor":"start","frame":"group","dx":-2,"font":"DejaVu Sans","fontSize":19,"fontWeight":"normal","baseline":"alphabetic","offset":-24},
   "data":{"name":"resD"},"mark":{"type":"rect","width":7.8,"height":5.6,"clip":true},
   "encoding":{
    "x":{"field":"x","type":"quantitative","scale":{"domain":[-91,91],"nice":false,"zero":false},"axis":{"values":[-80,-60,-40,-20,0,20,40,60,80],"title":"x [mm]","labelFontSize":10.5,"titleFontSize":10.5,"labelPadding":4,"titlePadding":6,"domain":true}},
    "y":{"field":"y","type":"quantitative","scale":{"domain":[-5,5],"nice":false,"zero":false},"axis":{"values":[4,0,-4],"title":"y [mm]","labelFontSize":11,"titleFontSize":11,"labelPadding":2,"titlePadding":5,"domain":true}},
    "color":{"field":"v","type":"quantitative","scale":{"domain":[-2.1,-1.15,0,1.15,2.1],"range":["#08376b","#6aa6d4","#f3f3f3","#e59a6a","#9e360a"]},
      "legend":{"orient":"none","legendX":461,"legendY":-14,"direction":"vertical","title":"[nm]","titleFontSize":8,"titleFontWeight":"bold","titlePadding":6,"gradientLength":27,"gradientThickness":7,"values":[2,0,-2],"labelFontSize":9,"labelFontWeight":"bold","labelOffset":2,"labelOverlap":false,"labelColor":"#333","gradientStrokeColor":"#333","gradientStrokeWidth":0.5}}}}
],
"columns":2,
"spacing":{"row":49,"column":99},
"bounds":"flush",
"center":true,
"resolve":{"scale":{"color":"independent","x":"independent","y":"independent"},"legend":{"color":"independent"},"axis":{"x":"independent","y":"independent"}},
"title":{"text":"Fig. 11.","subtitle":["\u200b\u00a0\u00a0\u00a0\u00a0\u00a0\u00a0\u00a0\u00a0\u00a0\u00a0\u00a0\u00a0\u00a0\u00a0\u00a0\u2009Dwell time and residual height errors calculated using MIM. (a) and (b) are the dwell time and residual height","errors without the middle-frequency error (MFE) and high-frequency-error (HFE), respectively. (c) and (d) are the dwell","time and residual height errors with MFE and HFE, respectively. It is evident that prefiltering with Rᵀ smooths the dwell","time."],
  "orient":"bottom","anchor":"start","frame":"bounds","dx":-2,"offset":39,
  "font":"Liberation Serif","fontSize":26.5,"fontWeight":"bold","color":"black","lineHeight":27.7,
  "subtitleFont":"Liberation Serif","subtitleFontSize":26.5,"subtitleFontWeight":"normal","subtitleColor":"black","subtitleLineHeight":27.7,"subtitlePadding":-26.5}
}
